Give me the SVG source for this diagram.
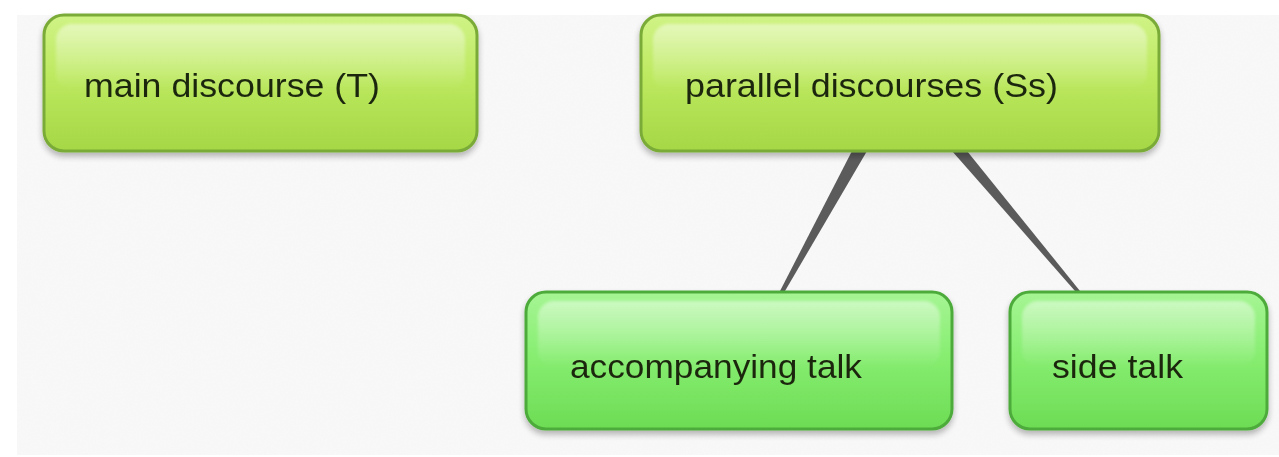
<svg xmlns="http://www.w3.org/2000/svg" width="1279" height="457" viewBox="0 0 1279 457">
  <defs>
    <linearGradient id="limeFill" x1="0" y1="0" x2="0" y2="1">
      <stop offset="0" stop-color="#d0f386"/>
      <stop offset="0.45" stop-color="#bde960"/>
      <stop offset="1" stop-color="#a5d745"/>
    </linearGradient>
    <linearGradient id="greenFill" x1="0" y1="0" x2="0" y2="1">
      <stop offset="0" stop-color="#a6f594"/>
      <stop offset="0.45" stop-color="#88ee72"/>
      <stop offset="1" stop-color="#6ddc54"/>
    </linearGradient>
    <linearGradient id="gloss" x1="0" y1="0" x2="0" y2="1">
      <stop offset="0" stop-color="#ffffff" stop-opacity="0.45"/>
      <stop offset="0.7" stop-color="#ffffff" stop-opacity="0.15"/>
      <stop offset="1" stop-color="#ffffff" stop-opacity="0"/>
    </linearGradient>
    <filter id="drop" x="-10%" y="-10%" width="120%" height="130%">
      <feGaussianBlur in="SourceAlpha" stdDeviation="3"/>
      <feOffset dx="0" dy="4" result="b"/>
      <feComponentTransfer><feFuncA type="linear" slope="0.28"/></feComponentTransfer>
      <feMerge><feMergeNode/><feMergeNode in="SourceGraphic"/></feMerge>
    </filter>
    <filter id="soft" x="-5%" y="-10%" width="110%" height="120%">
      <feGaussianBlur stdDeviation="1.5"/>
    </filter>
    <filter id="paper" x="0" y="0" width="100%" height="100%">
      <feTurbulence type="fractalNoise" baseFrequency="0.6" numOctaves="2" seed="3"/>
      <feColorMatrix type="matrix" values="0 0 0 0 0.85  0 0 0 0 0.85  0 0 0 0 0.85  0 0 0 0.1 0"/>
    </filter>
  </defs>
  <style>
    .lime { fill: url(#limeFill); stroke: #7aab37; stroke-width: 3; }
    .green { fill: url(#greenFill); stroke: #4dab3b; stroke-width: 3; }
    .gloss { fill: url(#gloss); }
    .label { font-family: "Liberation Sans", Arial, sans-serif; font-size: 33px; fill: #1c2810; }
    .link { fill: #5b5b5b; }
  </style>

  <!-- canvas -->
  <rect x="0" y="0" width="1279" height="457" fill="#ffffff"/>
  <rect x="17" y="15" width="1262" height="440" fill="#f8f8f8"/>
  <rect x="17" y="15" width="1262" height="440" filter="url(#paper)"/>

  <!-- connectors -->
  <g id="connectors">
    <polygon class="link" points="852,151 867,151 785,291 780,291"/>
    <polygon class="link" points="952,151 967,151 1080,291 1075,291"/>
  </g>

  <g id="node-main" filter="url(#drop)">
    <rect class="lime" x="44" y="15" width="433" height="136" rx="20"/>
    <rect class="gloss" x="56" y="24" width="409" height="66" rx="16" filter="url(#soft)"/>
    <text class="label" x="84" y="97" textLength="296" lengthAdjust="spacingAndGlyphs">main discourse (T)</text>
  </g>

  <g id="node-parallel" filter="url(#drop)">
    <rect class="lime" x="641" y="15" width="518" height="136" rx="20"/>
    <rect class="gloss" x="653" y="24" width="494" height="66" rx="16" filter="url(#soft)"/>
    <text class="label" x="685" y="97" textLength="373" lengthAdjust="spacingAndGlyphs">parallel discourses (Ss)</text>
  </g>

  <g id="node-accompanying" filter="url(#drop)">
    <rect class="green" x="526" y="292" width="426" height="137" rx="20"/>
    <rect class="gloss" x="538" y="301" width="402" height="66" rx="16" filter="url(#soft)"/>
    <text class="label" x="570" y="378" textLength="292" lengthAdjust="spacingAndGlyphs">accompanying talk</text>
  </g>

  <g id="node-side" filter="url(#drop)">
    <rect class="green" x="1010" y="292" width="257" height="137" rx="20"/>
    <rect class="gloss" x="1022" y="301" width="233" height="66" rx="16" filter="url(#soft)"/>
    <text class="label" x="1052" y="378" textLength="131" lengthAdjust="spacingAndGlyphs">side talk</text>
  </g>
</svg>
